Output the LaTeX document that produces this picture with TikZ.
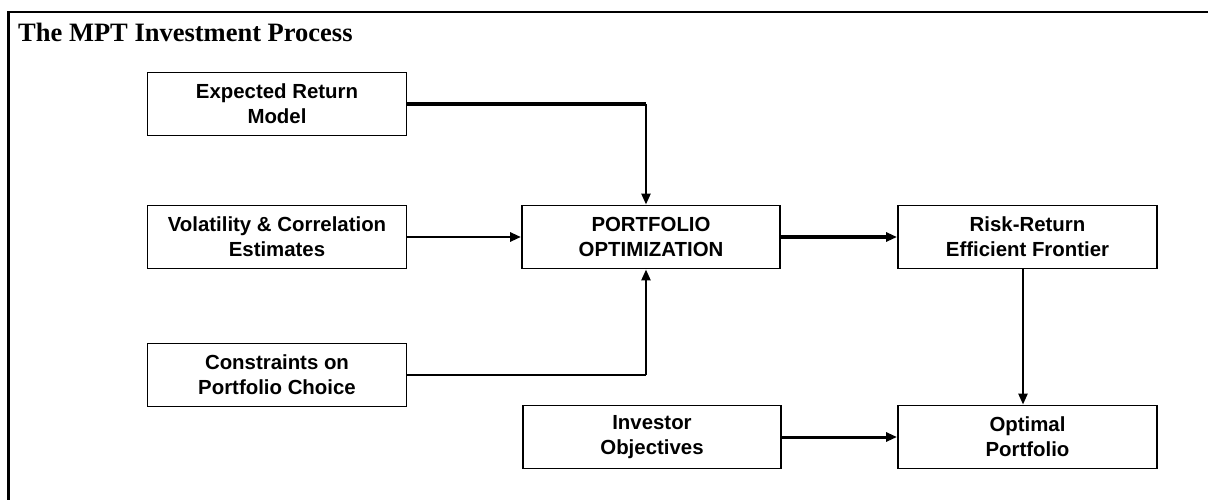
\documentclass[tikz,border=0pt]{standalone}
\usepackage{fontspec}
\setmainfont{Liberation Serif}
\setsansfont{Liberation Sans}
\usetikzlibrary{arrows.meta}

\begin{document}
\begin{tikzpicture}[x=1pt,y=-1pt,
  stage/.style={draw, line width=1.9pt, minimum width=259pt, minimum height=63pt,
    inner sep=0pt, align=center,
    font=\sffamily\bfseries\fontsize{20.4}{25}\selectfont},
  link/.style={line width=2.4pt, -{Triangle[length=11pt,width=9pt]}},
  heavy/.style={line width=4pt}]

\useasboundingbox (0,0) rectangle (1208,500);
\fill[white] (0,0) rectangle (1208,500);

% outer frame (left and top edges)
\draw[line width=2.2pt] (8.5,500) -- (8.5,12) -- (1208,12);

% heading
\node[anchor=base west, inner sep=0pt,
      font=\bfseries\fontsize{26.5}{30}\selectfont] (title) at (18,42)
      {The MPT Investment Process};

% input stages
\node[stage] (exp) at (277,104) {Expected Return\\Model};
\node[stage] (vol) at (277,237) {Volatility \& Correlation\\Estimates};
\node[stage] (con) at (277,375) {Constraints on\\Portfolio Choice};

% optimisation and outputs
\node[stage, minimum width=258pt] (opt)  at (651,237)    {PORTFOLIO\\OPTIMIZATION};
\node[stage] (risk) at (1027.5,237) {Risk-Return\\Efficient Frontier};
\node[stage, minimum width=258pt] (inv)  at (652,437)    {Investor\\Objectives};
\node[stage] (port) at (1027.5,437) {Optimal\\Portfolio};

% bend points of the elbow connectors
\coordinate (topbend) at (exp.east -| 646,0);
\coordinate (botbend) at (con.east -| 646,0);
\coordinate (riskfoot) at (1023,0);

% connectors
\draw[heavy] (exp.east) -- (topbend);
\draw[link] (topbend) -- (topbend |- opt.north);
\draw[link, line width=2.8pt] (vol.east) -- (opt.west);
\draw[line width=2.4pt] (con.east) -- (botbend);
\draw[link] (botbend) -- (botbend |- opt.south);
\draw[link, line width=3.4pt] (opt.east) -- (risk.west);
\draw[link] (riskfoot |- risk.south) -- (riskfoot |- port.north);
\draw[link, line width=3pt] (inv.east) -- (port.west);

\end{tikzpicture}
\end{document}
